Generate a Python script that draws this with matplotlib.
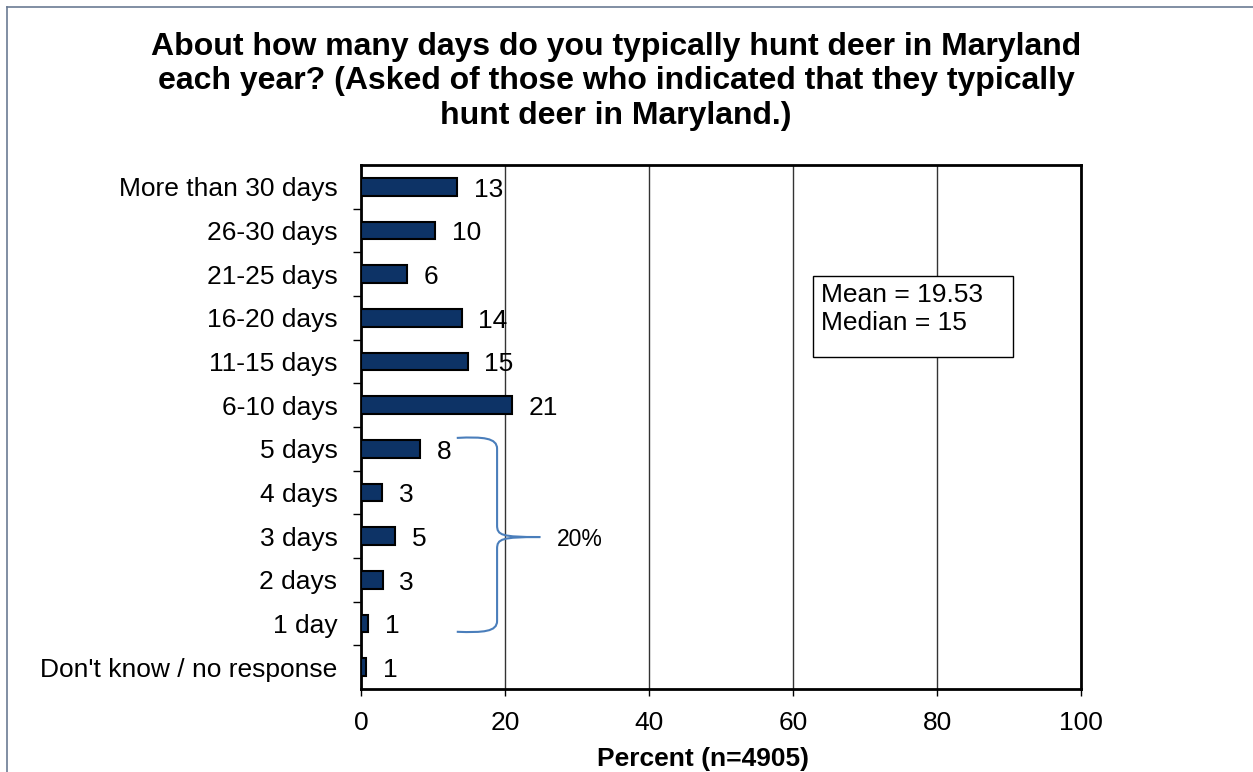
import matplotlib
matplotlib.use("Agg")
import matplotlib.pyplot as plt
from matplotlib.path import Path
from matplotlib.patches import PathPatch, Rectangle
from matplotlib.lines import Line2D

plt.rcParams['font.family'] = ['Liberation Sans', 'DejaVu Sans']

# --- data ---
categories = ["More than 30 days", "26-30 days", "21-25 days", "16-20 days",
              "11-15 days", "6-10 days", "5 days", "4 days", "3 days",
              "2 days", "1 day", "Don't know / no response"]
percents = [13.4, 10.3, 6.4, 14.0, 14.8, 21.0, 8.2, 2.9, 4.7, 3.0, 1.0, 0.7]
bracket_total = "20%"
stats_text = "Mean = 19.53\nMedian = 15"
title = ("About how many days do you typically hunt deer in Maryland\n"
         "each year? (Asked of those who indicated that they typically\n"
         "hunt deer in Maryland.)")

W, H = 1253, 772
fig = plt.figure(figsize=(W / 100, H / 100), dpi=100)
ax = fig.add_axes([361 / W, 1 - 689 / H, 720 / W, 524 / H])

pos = list(range(len(categories)))
ax.barh(pos, percents, height=0.41, color='#0d3366', edgecolor='black',
        linewidth=1.5, zorder=3)
for p, v in zip(pos, percents):
    ax.annotate(f"{v:.0f}", (v, p), xytext=(12, -2), textcoords='offset points',
                ha='left', va='center', fontsize=19)

ax.set_xlim(0, 100)
ax.set_ylim(len(categories) - 0.5, -0.5)
ax.set_xticks([0, 20, 40, 60, 80, 100])
ax.set_yticks(pos)
ax.set_yticklabels(categories)
ax.set_yticks([p + 0.5 for p in pos[:-1]], minor=True)
ax.tick_params(axis='y', which='major', length=0, pad=17, labelsize=19)
ax.tick_params(axis='y', which='minor', length=6, width=1, direction='out')
ax.tick_params(axis='x', length=5, width=1, labelsize=19, pad=11)
ax.xaxis.grid(True, color='#333333', linewidth=1, zorder=0)
for s in ax.spines.values():
    s.set_linewidth(2)
ax.set_xlabel("Percent (n=4905)", fontsize=19, fontweight='bold')
ax.xaxis.set_label_coords((703 - 361) / 720, -0.111)

# stats box
ax.add_patch(Rectangle((62.8, 2.04), 27.8, 1.86, facecolor='white',
                       edgecolor='black', linewidth=1, zorder=5))
ax.text(63.9, 2.8, stats_text, fontsize=19, ha='left', va='center',
        linespacing=1.2, zorder=6)

# curly bracket over 5 days .. 1 day
top = pos[6] - 0.25
bot = pos[10] + 0.19
mid = pos[8] + 0.02
x0, x1, xt = 13.3, 18.9, 24.9
verts = [(x0, top), (17.0, top - 0.03), (x1, top), (x1, top + 0.25),
         (x1, mid - 0.27),
         (x1, mid - 0.04), (19.5, mid), (xt, mid),
         (19.5, mid), (x1, mid + 0.04), (x1, mid + 0.27),
         (x1, bot - 0.25),
         (x1, bot), (17.0, bot + 0.02), (x0, bot)]
codes = [Path.MOVETO, Path.CURVE4, Path.CURVE4, Path.CURVE4, Path.LINETO,
         Path.CURVE4, Path.CURVE4, Path.CURVE4,
         Path.CURVE4, Path.CURVE4, Path.CURVE4, Path.LINETO,
         Path.CURVE4, Path.CURVE4, Path.CURVE4]
ax.add_patch(PathPatch(Path(verts, codes), facecolor='none',
                       edgecolor='#4a7ebb', linewidth=1.5, zorder=4))
ax.text(27.2, mid + 0.05, bracket_total, fontsize=16.5, ha='left', va='center')

fig.text(616 / W, 1 - 32 / H, title, ha='center', va='top', fontsize=23,
         fontweight='bold', linespacing=1.19)

# outer frame (left and top edges visible)
fig.add_artist(Line2D([7 / W, 7 / W], [0, 1 - 7 / H], transform=fig.transFigure,
                      color='#6b7b93', linewidth=1.2))
fig.add_artist(Line2D([7 / W, 1], [1 - 7 / H, 1 - 7 / H], transform=fig.transFigure,
                      color='#6b7b93', linewidth=1.2))

fig.savefig("out.png", dpi=100)
